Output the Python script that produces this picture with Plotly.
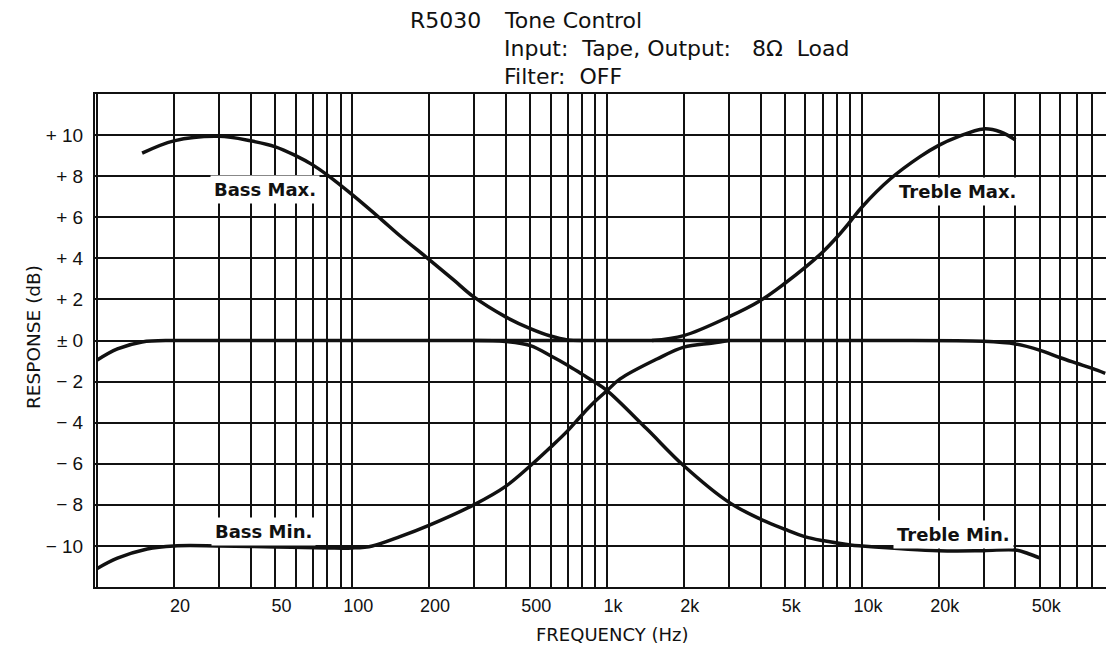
import math
import plotly.graph_objects as go

# ---------------- data ----------------
flat_f = [10, 12, 15, 20, 30, 50, 100, 1000, 10000, 30000, 40000, 50000, 60000, 70000, 80000, 90000]
flat_db = [-0.95, -0.41, -0.07, 0.0, 0.0, 0.0, 0.0, 0.0, 0.0, -0.04, -0.17, -0.48, -0.84, -1.12, -1.36, -1.6]

bass_max_f = [15, 20, 30, 40, 50, 60, 70, 80, 100, 130, 154, 200, 250, 300, 400, 500, 600, 700, 800]
bass_max_db = [9.12, 9.72, 9.94, 9.72, 9.43, 9.0, 8.55, 8.05, 7.1, 5.9, 5.1, 3.95, 2.95, 2.12, 1.15,
               0.58, 0.22, 0.03, 0.0]

bass_min_f = [10, 12, 15.7, 20, 30, 50, 80, 100, 120, 154, 200, 300, 400, 500, 600, 700, 800, 900,
              1000, 1125, 1570, 2000, 2600, 3000]
bass_min_db = [-11.1, -10.6, -10.15, -10.0, -10.0, -10.05, -10.1, -10.1, -10.0, -9.55, -9.0, -8.0, -7.1,
               -6.1, -5.2, -4.4, -3.6, -2.95, -2.44, -1.87, -0.9, -0.32, -0.12, 0.0]

treble_max_f = [1500, 2000, 3000, 4000, 5000, 6000, 7000, 8000, 9000, 10000, 12900, 16900, 20000,
                23600, 30000, 35000, 40000]
treble_max_db = [0.0, 0.24, 1.15, 1.95, 2.8, 3.57, 4.3, 5.05, 5.8, 6.5, 7.86, 8.95, 9.5, 9.9, 10.3,
                 10.15, 9.76]

treble_min_f = [300, 400, 500, 600, 700, 800, 900, 1000, 1430, 2000, 3000, 4000, 5000, 6000, 7000,
                9000, 10000, 20000, 30000, 40000, 45000, 50000]
treble_min_db = [0.0, -0.05, -0.25, -0.74, -1.2, -1.65, -2.05, -2.44, -4.3, -6.1, -7.87, -8.7, -9.2,
                 -9.56, -9.74, -9.95, -10.0, -10.23, -10.23, -10.2, -10.38, -10.6]

x_label_vals = [20, 50, 100, 200, 500, 1000, 2000, 5000, 10000, 20000, 50000]
x_label_text = ["20", "50", "100", "200", "500", "1k", "2k", "5k", "10k", "20k", "50k"]

y_tick_vals = [-10, -8, -6, -4, -2, 0, 2, 4, 6, 8, 10]
y_tick_text = ["\u2212 10", "\u2212 8", "\u2212 6", "\u2212 4", "\u2212 2", "\u00b1 0",
               "+ 2", "+ 4", "+ 6", "+ 8", "+ 10"]

curve_labels = ["Bass Max.", "Treble Max.", "Bass Min.", "Treble Min."]
curve_label_x = [45.6, 23600, 44.8, 22750]
curve_label_y = [7.37, 7.23, -9.32, -9.42]

title_head = "R5030"
title_lines = ["Tone Control",
               "Input:\u00a0\u00a0Tape, Output:\u00a0\u00a0\u00a08\u03a9\u00a0\u00a0Load",
               "Filter:\u00a0\u00a0OFF"]

# ---------------- figure ----------------
INK = "#111111"
fig = go.Figure()
series = [(flat_f, flat_db), (bass_max_f, bass_max_db), (bass_min_f, bass_min_db),
          (treble_max_f, treble_max_db), (treble_min_f, treble_min_db)]
for fx, fy in series:
    fig.add_trace(go.Scatter(x=fx, y=fy, mode="lines",
                             line=dict(color=INK, width=3.5, shape="spline", smoothing=1.0),
                             showlegend=False, hoverinfo="skip"))

# grid frequencies: 1..9 x each decade from 10 Hz to 90 kHz
grid_f = [m * 10 ** d for d in range(1, 5) for m in range(1, 10)]
label_map = dict(zip(x_label_vals, x_label_text))
grid_text = [label_map.get(v, "") for v in grid_f]

fig.update_xaxes(type="log", range=[math.log10(9.8), math.log10(90600)],
                 tickmode="array", tickvals=grid_f, ticktext=grid_text,
                 showgrid=True, gridcolor=INK, gridwidth=1.7,
                 showline=True, linecolor=INK, linewidth=2, mirror=True,
                 ticks="", ticklabelstandoff=1, ticklabelshift=6,
                 tickfont=dict(family="Liberation Sans", size=18, color=INK),
                 zeroline=False, fixedrange=True)
fig.update_yaxes(range=[-12, 12], tickmode="array", tickvals=y_tick_vals, ticktext=y_tick_text,
                 showgrid=True, gridcolor=INK, gridwidth=1.7,
                 showline=True, linecolor=INK, linewidth=2, mirror=False,
                 ticks="", ticklabelstandoff=6,
                 tickfont=dict(family="Liberation Sans", size=19, color=INK),
                 zeroline=False, fixedrange=True)

for txt, lx, ly in zip(curve_labels, curve_label_x, curve_label_y):
    fig.add_annotation(x=math.log10(lx), y=ly, xref="x", yref="y", text="<b>" + txt + "</b>",
                       showarrow=False, bgcolor="white", borderpad=3,
                       font=dict(family="DejaVu Sans", size=18, color=INK))

# title block
fig.add_annotation(xref="paper", yref="paper", x=(408 - 95) / 1011, y=1, yshift=74,
                   xanchor="left", yanchor="middle", text=title_head, showarrow=False,
                   font=dict(family="DejaVu Sans", size=22, color=INK))
for i, line in enumerate(title_lines):
    fig.add_annotation(xref="paper", yref="paper", x=(502 - 95) / 1011, y=1, yshift=74 - 28 * i,
                       xanchor="left", yanchor="middle", text=line, showarrow=False,
                       font=dict(family="DejaVu Sans", size=22, color=INK))

# axis titles
fig.add_annotation(xref="paper", yref="paper", x=(612 - 95) / 1011, y=0, yshift=-47,
                   xanchor="center", yanchor="middle", text="FREQUENCY (Hz)", showarrow=False,
                   font=dict(family="DejaVu Sans", size=18, color=INK))
fig.add_annotation(xref="paper", yref="paper", x=(33 - 95) / 1011, y=(587 - 337) / 493,
                   xanchor="center", yanchor="middle", text="RESPONSE (dB)", textangle=-90,
                   showarrow=False, font=dict(family="DejaVu Sans", size=18.5, color=INK))

fig.update_layout(width=1106, height=651, margin=dict(l=95, r=0, t=94, b=64),
                  paper_bgcolor="white", plot_bgcolor="white", showlegend=False)

fig.write_html("out.html", config={"displayModeBar": False})
